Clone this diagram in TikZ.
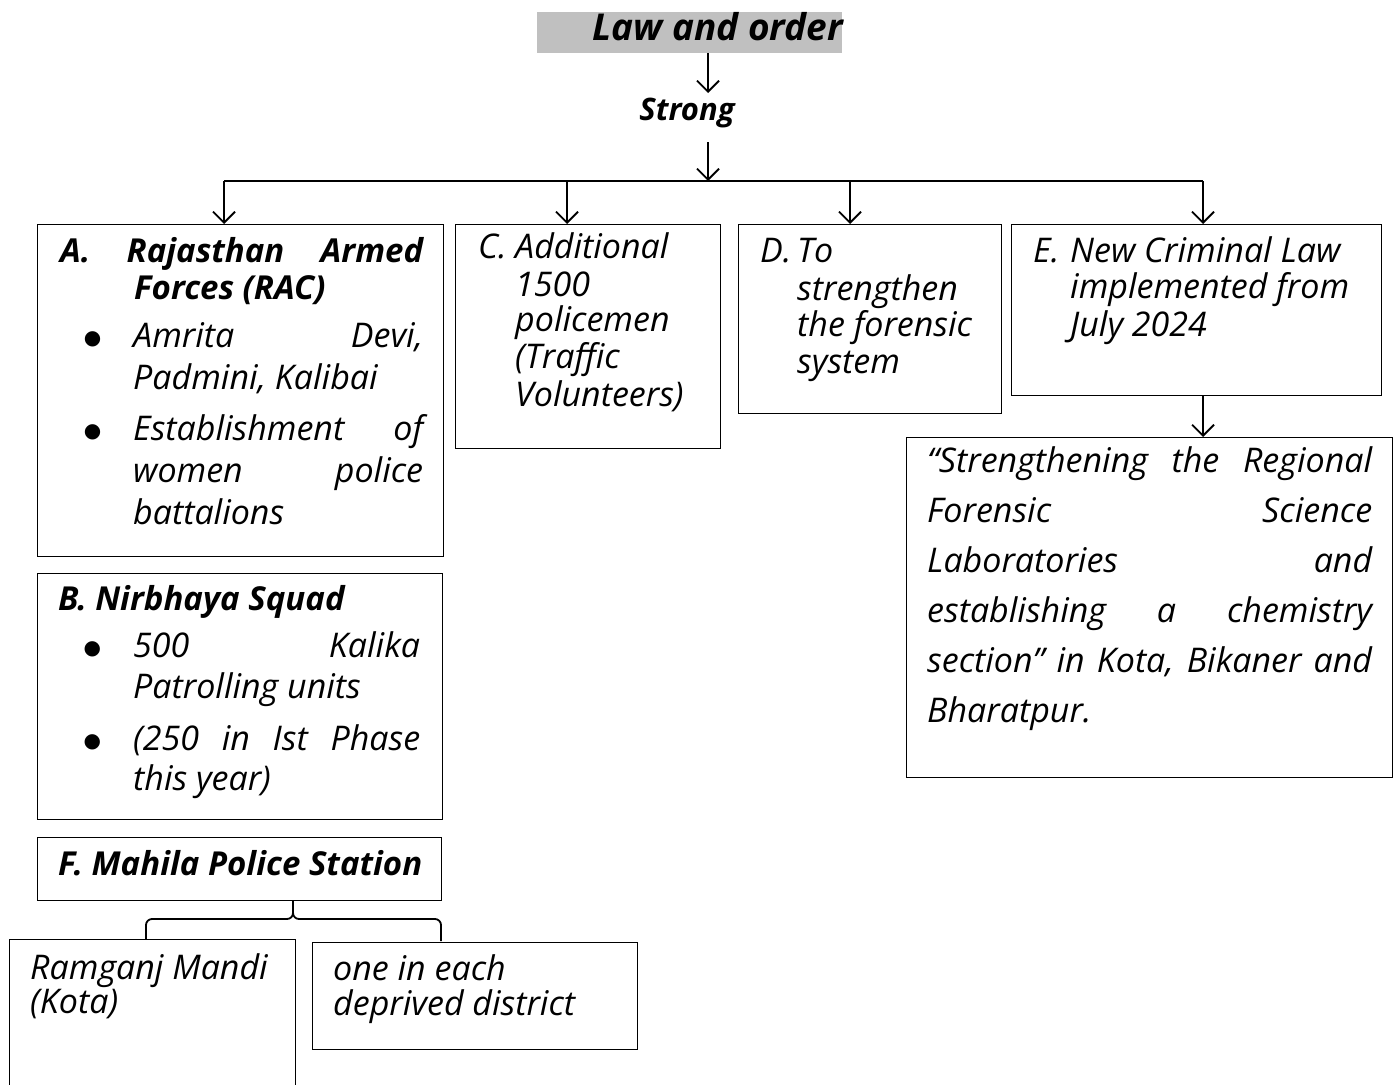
\documentclass[tikz,border=0pt]{standalone}
\usepackage{fontspec}
\setmainfont{Open Sans}
\newfontfamily\dejavu{DejaVu Sans}
\usetikzlibrary{arrows.meta}
\definecolor{titlegray}{RGB}{192,192,192}
\newcommand{\bodyf}{\fontsize{34}{37}\selectfont\mdseries\itshape}
\newcommand{\boldf}{\fontsize{33}{37}\selectfont\bfseries\itshape}
\newcommand{\bull}{\llap{{\dejavu\fontsize{20}{20}\selectfont\raisebox{3pt}{●}}\hspace{32pt}}}
\newcommand{\Lr}[3]{\baselineskip=#1pt\relax\moveright#2pt\hbox{#3}}
\newcommand{\Lj}[4]{\baselineskip=#1pt\relax\moveright#2pt\hbox to #3pt{#4}}
\begin{document}
\begin{tikzpicture}[x=1pt,y=-1pt,
  box/.style={draw, line width=1.3pt, inner sep=0pt, anchor=north west},
  txt/.style={inner sep=0pt, anchor=base west},
  conn/.style={line width=1.8pt},
  arr/.style={conn, -{Straight Barb[length=11pt,width=22pt]}}]
\useasboundingbox (0,0) rectangle (1396,1084);
\fill[white] (0,0) rectangle (1396,1084);

% title
\node[anchor=north west, fill=titlegray, inner sep=0pt, minimum width=305pt, minimum height=41pt] (T) at (537,12) {};
\node[inner sep=0pt, anchor=base east] (Tt) at (843,40) {\fontsize{37}{40}\selectfont\bfseries\itshape Law and order};
\node[inner sep=0pt, anchor=base] (S) at (687,120) {\fontsize{31}{37}\selectfont\bfseries\itshape Strong};

% boxes
\node[box, minimum width=406pt, minimum height=332pt] (A) at (37,224) {};
\node[box, minimum width=265pt, minimum height=224pt] (C) at (455,224) {};
\node[box, minimum width=263pt, minimum height=189pt] (D) at (738,224) {};
\node[box, minimum width=370pt, minimum height=171pt] (E) at (1011,224) {};
\node[box, minimum width=486pt, minimum height=340pt] (G) at (906,437) {};
\node[box, minimum width=405pt, minimum height=246pt] (B) at (37,573) {};
\node[box, minimum width=404pt, minimum height=63pt] (F) at (37,837) {};
\node[box, minimum width=286pt, minimum height=160pt] (R) at (9,939) {};
\node[box, minimum width=325pt, minimum height=107pt] (O) at (312,942) {};

% texts
\node[txt] (At) at (60,262) {\boldf\vtop{\lineskiplimit=-100pt
  \Lj{0}{0}{363}{A. Rajasthan Armed}
  \Lr{37}{74}{Forces (RAC)}
  \bodyf
  \Lj{48}{73}{290}{\bull Amrita Devi,}
  \Lr{42}{73}{Padmini, Kalibai}
  \Lj{51}{73}{290}{\bull Establishment of}
  \Lj{42}{73}{290}{women police}
  \Lr{42}{73}{battalions}}};

\node[txt] (Bt) at (58,610) {\boldf\vtop{\lineskiplimit=-100pt
  \Lr{0}{0}{B. Nirbhaya Squad}
  \bodyf
  \Lj{47}{75}{287}{\bull 500 Kalika}
  \Lr{41}{75}{Patrolling units}
  \Lj{52}{75}{287}{\bull (250 in Ist Phase}
  \Lr{40}{75}{this year)}}};

\node[txt] (Ct) at (478,258) {\bodyf\vtop{\lineskiplimit=-100pt
  \Lr{0}{0}{\makebox[37pt][l]{C.}Additional}
  \Lr{38}{37}{1500}
  \Lr{35}{37}{policemen}
  \Lr{37}{37}{(Traffic}
  \Lr{38}{37}{Volunteers)}}};

\node[txt] (Dt) at (760,262) {\bodyf\vtop{\lineskiplimit=-100pt
  \Lr{0}{0}{\makebox[37pt][l]{D.}To}
  \Lr{38}{37}{strengthen}
  \Lr{36}{37}{the forensic}
  \Lr{37}{37}{system}}};

\node[txt] (Et) at (1033,262) {\bodyf\vtop{\lineskiplimit=-100pt
  \Lr{0}{0}{\makebox[37pt][l]{E.}New Criminal Law}
  \Lr{36}{37}{implemented from}
  \Lr{38}{37}{July 2024}}};

\node[txt] (Gt) at (927,472) {\bodyf\vtop{\lineskiplimit=-100pt
  \Lj{0}{0}{445}{“Strengthening the Regional}
  \Lj{50}{0}{445}{Forensic Science}
  \Lj{50}{0}{445}{Laboratories and}
  \Lj{50}{0}{445}{establishing a chemistry}
  \Lj{50}{0}{445}{section” in Kota, Bikaner and}
  \Lr{50}{0}{Bharatpur.}}};

\node[txt] (Ft) at (58,875) {\boldf F. Mahila Police Station};

\node[txt] (Rt) at (30,979) {\bodyf\vtop{\lineskiplimit=-100pt
  \Lr{0}{0}{Ramganj Mandi}
  \Lr{34}{0}{(Kota)}}};

\node[txt] (Ot) at (333,980) {\bodyf\vtop{\lineskiplimit=-100pt
  \Lr{0}{0}{one in each}
  \Lr{35}{0}{deprived district}}};

% connectors
\coordinate (t1) at (708,53);
\coordinate (s1) at (708,93);
\coordinate (s2) at (708,142);
\coordinate (j0) at (708,181);
\coordinate (dA) at (224,181);
\coordinate (dC) at (567,181);
\coordinate (dD) at (850,181);
\coordinate (dE) at (1203,181);
\draw[arr] (t1) -- (s1);
\draw[arr] (s2) -- (j0);
\draw[conn] (dA) -- (dE);
\draw[arr] (dA) -- (dA |- A.north);
\draw[arr] (dC) -- (dC |- C.north);
\draw[arr] (dD) -- (dD |- D.north);
\draw[arr] (dE) -- (dE |- E.north);
\draw[arr] (dE |- E.south) -- (dE |- G.north);

% brace from F
\coordinate (fb) at (293,900);
\coordinate (bl) at (146,939);
\coordinate (br) at (441,941);
\draw[conn, rounded corners=6pt] (bl) -- (146,919) -- (293,919) -- (fb);
\draw[conn, rounded corners=6pt] (br) -- (441,919) -- (293,919) -- (fb);
\end{tikzpicture}
\end{document}
